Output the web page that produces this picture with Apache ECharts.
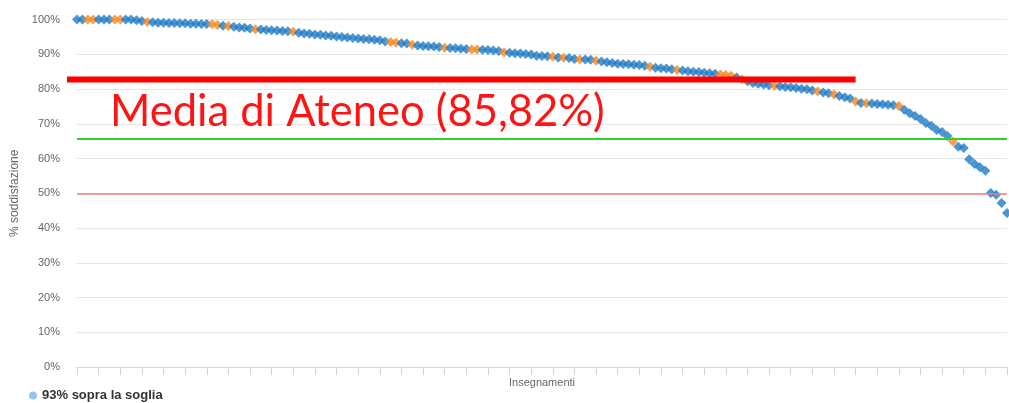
<!DOCTYPE html>
<html>
<head>
<meta charset="utf-8">
<script src="https://cdn.jsdelivr.net/npm/echarts@6/dist/echarts.min.js"></script>
<style>
  html, body { margin: 0; padding: 0; background: #fff; }
  #main { width: 1009px; height: 403px; }
</style>
</head>
<body>
<div id="main"></div>
<script>
// % soddisfazione per insegnamento, ordinati in modo decrescente
var valori = [
  100, 100, 100, 100, 100, 100, 100, 100, 100, 100, 100,
  99.8, 99.6, 99.3, 99.2, 99.1, 99.1, 99.0, 99.0, 98.9,
  98.9, 98.8, 98.8, 98.7, 98.7, 98.6, 98.4, 98.2, 98.1, 97.9,
  97.7, 97.6, 97.4, 97.2, 97.1, 97.0, 96.9, 96.8, 96.7, 96.6,
  96.5, 96.2, 96.0, 95.9, 95.7, 95.6, 95.4, 95.3, 95.1, 95.0,
  94.8, 94.7, 94.5, 94.4, 94.3, 94.2, 94.0, 93.7, 93.5, 93.4,
  93.2, 93.1, 92.7, 92.5, 92.4, 92.3, 92.2, 92.1, 91.9, 91.8,
  91.7, 91.6, 91.5, 91.4, 91.4, 91.3, 91.2, 91.1, 90.9, 90.6,
  90.4, 90.3, 90.2, 90.1, 89.9, 89.6, 89.5, 89.4, 89.3, 89.1,
  89.0, 88.9, 88.6, 88.5, 88.5, 88.4, 88.1, 87.9, 87.7, 87.5,
  87.3, 87.2, 87.1, 87.0, 86.9, 86.7, 86.4, 86.1, 86.0, 85.9,
  85.7, 85.5, 85.3, 85.1, 85.0, 84.9, 84.7, 84.5, 84.4, 84.2,
  84.0, 83.8, 83.3, 82.8, 82.2, 81.7, 81.5, 81.3, 81.1, 80.9,
  80.8, 80.6, 80.5, 80.3, 80.1, 79.9, 79.6, 79.3, 79.0, 78.8,
  78.4, 78.0, 77.6, 77.3, 76.4, 76.0, 75.9, 75.8, 75.7, 75.6,
  75.5, 75.3, 75.1, 74.0, 73.0, 72.2, 71.4, 70.2, 69.4, 68.2,
  67.6, 66.5, 64.9, 63.4, 63.0, 59.8, 58.4, 57.5, 56.5, 50.1,
  49.6, 47.2, 44.3
];
// insegnamenti evidenziati in arancione
var evidenziati = [2, 3, 7, 8, 13, 25, 26, 28, 33, 40, 58, 59, 62, 68, 73, 74, 79,
  88, 90, 93, 96, 106, 111, 119, 120, 121, 123, 129, 137, 140, 144, 146, 152, 162];
var soglia = 65.6;      // linea verde
var minimo = 50;        // linea rossa sottile
var mediaLinea = 82.7;  // linea rossa spessa (annotazione)
var mediaTesto = 'Media di Ateneo (85,82%)';

var categorie = valori.map(function (v, i) { return 'Ins. ' + (i + 1); });
var dati = valori.map(function (v, i) {
  return evidenziati.indexOf(i) >= 0
    ? { value: v, itemStyle: { color: '#f7881f' } }
    : v;
});

var myChart = echarts.init(document.getElementById('main'));

option = {
  backgroundColor: '#fff',
  animation: false,
  grid: { left: 77, right: 2, top: 19.5, bottom: 36 },
  legend: {
    left: 24,
    top: 384,
    itemWidth: 8,
    itemHeight: 8,
    data: [{ name: '93% sopra la soglia', icon: 'circle', itemStyle: { color: '#7cb5ec' } }],
    textStyle: { color: '#333', fontSize: 13, fontWeight: 'bold', fontFamily: 'Liberation Sans' }
  },
  xAxis: {
    type: 'category',
    data: categorie,
    boundaryGap: false,
    name: 'Insegnamenti',
    nameLocation: 'middle',
    nameGap: 10,
    nameTextStyle: { color: '#666', fontSize: 11, fontFamily: 'Liberation Sans' },
    axisLine: { lineStyle: { color: '#ccd6eb' } },
    axisTick: { interval: 3, length: 8, lineStyle: { color: '#ccd6eb' } },
    axisLabel: { show: false },
    splitLine: { show: false }
  },
  yAxis: {
    type: 'value',
    min: 0,
    max: 100,
    interval: 10,
    name: '% soddisfazione',
    nameLocation: 'middle',
    nameGap: 54,
    nameTextStyle: { color: '#666', fontSize: 12, fontFamily: 'Liberation Sans' },
    axisLabel: { formatter: '{value}%', color: '#666', fontSize: 11, margin: 17, fontFamily: 'Liberation Sans' },
    axisLine: { show: false },
    axisTick: { show: false },
    splitLine: { lineStyle: { color: '#e6e6e6' } }
  },
  series: [{
    name: '93% sopra la soglia',
    type: 'scatter',
    symbol: 'diamond',
    symbolSize: 10,
    itemStyle: { color: '#1f7cc7' },
    data: dati,
    markLine: {
      silent: true,
      symbol: 'none',
      label: { show: false },
      data: [
        { yAxis: soglia, lineStyle: { color: '#33cc33', width: 2, type: 'solid' } },
        { yAxis: minimo, lineStyle: { color: '#f08080', width: 1.5, type: 'solid' } }
      ]
    }
  }]
};
myChart.setOption(option);

// annotazione: linea e testo della media di Ateneo
var yMedia = myChart.convertToPixel({ yAxisIndex: 0 }, mediaLinea);
var xFine = myChart.convertToPixel({ xAxisIndex: 0 }, categorie[144]);
myChart.setOption({
  graphic: [
    {
      type: 'line',
      shape: { x1: 67, y1: yMedia, x2: xFine, y2: yMedia },
      style: { stroke: '#ff0000', lineWidth: 6 },
      z: 100
    },
    {
      type: 'text',
      left: 110,
      top: 90,
      style: { text: mediaTesto, fill: '#ff1414', font: '43.5px Lato' },
      z: 100
    }
  ]
});
</script>
</body>
</html>
